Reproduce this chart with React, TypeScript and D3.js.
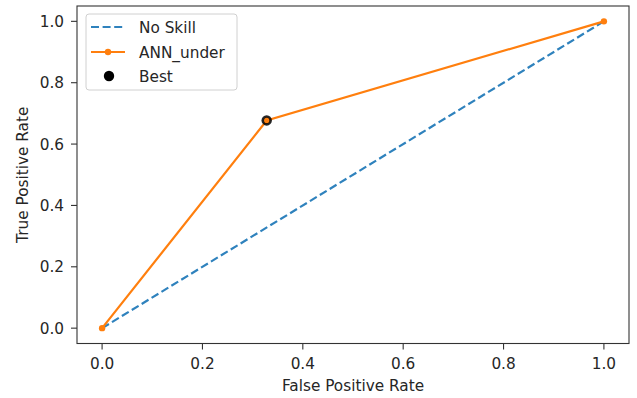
import React from "react";
import * as d3 from "d3";

const noSkillX = [0, 1];
const noSkillY = [0, 1];
const annFpr = [0, 0.328, 1];
const annTpr = [0, 0.677, 1];
const bestFpr = [0.328];
const bestTpr = [0.677];
const xTicks = [0, 0.2, 0.4, 0.6, 0.8, 1.0];
const yTicks = [0, 0.2, 0.4, 0.6, 0.8, 1.0];
const legendLabels = ["No Skill", "ANN_under", "Best"];

const W = 637, H = 398;
const L = 77, R = 629, T = 6, B = 343.5;
const FONT = "DejaVu Sans, sans-serif";
const FS = 15.3;
const TXT = "#262626";

export default function App() {
  const x = d3.scaleLinear().domain([-0.05, 1.05]).range([L, R]);
  const y = d3.scaleLinear().domain([-0.05, 1.05]).range([B, T]);
  const line = d3.line<[number, number]>().x(d => x(d[0])).y(d => y(d[1]));
  const ns: [number, number][] = noSkillX.map((v, i) => [v, noSkillY[i]]);
  const ann: [number, number][] = annFpr.map((v, i) => [v, annTpr[i]]);
  const rows = [27, 52, 76];
  return (
    <svg width={W} height={H} style={{ position: "absolute", left: 0, top: 0, background: "#fff" }}>
      <rect x={0} y={0} width={W} height={H} fill="#fff" />
      <path d={line(ns) || ""} fill="none" stroke="#2f82bd" strokeWidth={2.2} strokeDasharray="8,3.6" />
      <path d={line(ann) || ""} fill="none" stroke="#ff7f0e" strokeWidth={2.2} />
      {ann.map((d, i) => (
        <circle key={i} cx={x(d[0])} cy={y(d[1])} r={3.2} fill="#ff7f0e" />
      ))}
      {bestFpr.map((v, i) => (
        <circle key={i} cx={x(v)} cy={y(bestTpr[i])} r={5.2} fill="#000" fillOpacity={0.85} />
      ))}
      {bestFpr.map((v, i) => (
        <circle key={"o" + i} cx={x(v)} cy={y(bestTpr[i])} r={2.6} fill="#ff7f0e" />
      ))}
      <rect x={L} y={T} width={R - L} height={B - T} fill="none" stroke="#333" strokeWidth={1.1} />
      {xTicks.map(t => (
        <g key={t}>
          <line x1={x(t)} x2={x(t)} y1={B} y2={B + 6} stroke="#333" strokeWidth={1.1} />
          <text x={x(t)} y={369} textAnchor="middle" fontFamily={FONT} fontSize={FS} fill={TXT}>{t.toFixed(1)}</text>
        </g>
      ))}
      {yTicks.map(t => (
        <g key={t}>
          <line x1={L - 6} x2={L} y1={y(t)} y2={y(t)} stroke="#333" strokeWidth={1.1} />
          <text x={L - 13} y={y(t) + 5.6} textAnchor="end" fontFamily={FONT} fontSize={FS} fill={TXT}>{t.toFixed(1)}</text>
        </g>
      ))}
      <text x={(L + R) / 2} y={391} textAnchor="middle" fontFamily={FONT} fontSize={FS} fill={TXT}>False Positive Rate</text>
      <text transform={`translate(28,${(T + B) / 2}) rotate(-90)`} textAnchor="middle" fontFamily={FONT} fontSize={FS} fill={TXT}>True Positive Rate</text>
      <rect x={86} y={14} width={151} height={76} rx={3} fill="#fff" fillOpacity={0.8} stroke="#d0d0d0" strokeWidth={1} />
      <line x1={91} x2={125} y1={rows[0]} y2={rows[0]} stroke="#2f82bd" strokeWidth={2.2} strokeDasharray="8,3.6" />
      <line x1={91} x2={125} y1={rows[1]} y2={rows[1]} stroke="#ff7f0e" strokeWidth={2.2} />
      <circle cx={108} cy={rows[1]} r={3.2} fill="#ff7f0e" />
      <circle cx={109} cy={rows[2]} r={5.2} fill="#000" />
      {legendLabels.map((lab, i) => (
        <text key={lab} x={139} y={rows[i] + 5.5} fontFamily={FONT} fontSize={FS} fill={TXT}>{lab}</text>
      ))}
    </svg>
  );
}
